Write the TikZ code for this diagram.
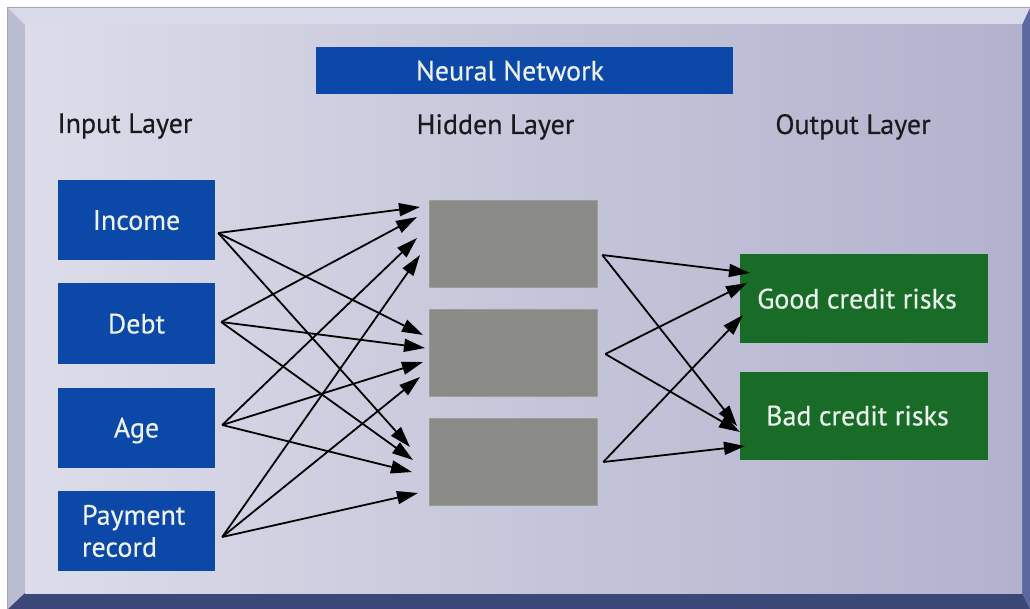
\documentclass[tikz,border=0pt]{standalone}
\usepackage{fontspec}
\setmainfont{PT Sans}[FakeBold=0.35]
\usetikzlibrary{arrows.meta}

\definecolor{nnblue}{RGB}{12,72,168}
\definecolor{nngreen}{RGB}{24,108,40}
\definecolor{nngrey}{RGB}{138,138,134}
\definecolor{faceL}{RGB}{220,220,234}
\definecolor{faceM}{RGB}{198,198,218}
\definecolor{faceR}{RGB}{178,178,206}
\definecolor{bevTop}{RGB}{216,217,233}
\definecolor{bevLeft}{RGB}{186,188,210}
\definecolor{bevBottom}{RGB}{58,71,119}
\definecolor{bevRight}{RGB}{92,104,160}
\definecolor{boxtext}{RGB}{236,242,236}
\definecolor{labeltext}{RGB}{26,26,30}

\tikzset{
  boxfont/.style={font=\fontsize{28}{32}\selectfont},
  inbox/.style={boxfont, fill=nnblue, text=boxtext, minimum width=157pt,
                minimum height=80pt, inner sep=0pt, text depth=0pt},
  hidbox/.style={fill=nngrey, draw=nngrey!85!white, line width=0.6pt,
                 minimum width=168pt, minimum height=87pt, inner sep=0pt},
  outbox/.style={boxfont, fill=nngreen, text=boxtext, minimum width=248pt,
                 minimum height=88pt, inner sep=0pt, text depth=0pt},
  layerlabel/.style={boxfont, text=labeltext, anchor=base, inner sep=0pt},
  link/.style={line width=1.8pt, black,
               -{Triangle[length=21pt,width=13pt]}},
}

\begin{document}
\begin{tikzpicture}[x=1pt,y=-1pt]
\useasboundingbox (0,0) rectangle (1030,609);
\fill[white] (0,0) rectangle (1030,609);

% bevelled frame
\fill[bevTop]    (8,8) -- (1030,8) -- (1022,25) -- (25,25) -- cycle;
\fill[bevLeft]   (8,8) -- (25,25) -- (25,593) -- (8,609) -- cycle;
\fill[bevRight]  (1030,8) -- (1030,609) -- (1022,593) -- (1022,25) -- cycle;
\fill[bevBottom] (8,609) -- (25,593) -- (1022,593) -- (1030,609) -- cycle;
\draw[gray!70, line width=1pt] (7.5,609) -- (7.5,7.5) -- (1030,7.5);

% face of the panel
\shade[left color=faceL, right color=faceR, middle color=faceM]
  (25,25) rectangle (1022,593);

% title
\node[boxfont, fill=nnblue, text=boxtext, minimum width=417pt,
      minimum height=47pt, inner sep=0pt, text depth=0pt]
  (title) at (524.5,70.5) {\hspace*{-29pt}Neural Network};

% layer headings
\node[layerlabel] (inlabel)  at (125,133)   {Input Layer};
\node[layerlabel] (hidlabel) at (495.5,134) {Hidden Layer};
\node[layerlabel] (outlabel) at (853,134)   {Output Layer};

% input layer
\node[inbox] (income) at (136.5,220)   {Income};
\node[inbox] (debt)   at (136.5,323.5) {Debt};
\node[inbox] (age)    at (136.5,427.5) {Age};
\node[inbox, text width=109pt, align=left, text depth=]
  (payment) at (136.5,531) {Payment\\record};

% hidden layer
\node[hidbox] (h1) at (513,243.5) {};
\node[hidbox] (h2) at (513,353)   {};
\node[hidbox] (h3) at (513,462)   {};

% output layer
\node[outbox] (good) at (864,298.5) {\hspace*{-14pt}Good credit risks};
\node[outbox] (bad)  at (864,415.5) {\hspace*{-13pt}Bad credit risks};

% where the links leave the input boxes
\coordinate (income-o)  at ([xshift=3pt,yshift=-13pt]income.east);
\coordinate (debt-o)    at ([xshift=6pt,yshift=1.5pt]debt.east);
\coordinate (age-o)     at ([xshift=7pt,yshift=2.5pt]age.east);
\coordinate (payment-o) at ([xshift=7pt,yshift=-6pt]payment.east);

% where the links end in front of the hidden boxes
\coordinate (h1-a) at (420,207);
\coordinate (h1-b) at (417,217);
\coordinate (h1-c) at (417,238);
\coordinate (h1-d) at (420,255);
\coordinate (h2-a) at (423,335);
\coordinate (h2-b) at (425,348);
\coordinate (h2-c) at (423,362);
\coordinate (h2-d) at (420,377);
\coordinate (h3-a) at (410,447);
\coordinate (h3-b) at (413,460);
\coordinate (h3-c) at (412,472);
\coordinate (h3-d) at (418,493);

% input -> hidden
\draw[link] (income-o)  -- (h1-a);
\draw[link] (income-o)  -- (h2-a);
\draw[link] (income-o)  -- (h3-a);
\draw[link] (debt-o)    -- (h1-b);
\draw[link] (debt-o)    -- (h2-b);
\draw[link] (debt-o)    -- (h3-b);
\draw[link] (age-o)     -- (h1-c);
\draw[link] (age-o)     -- (h2-c);
\draw[link] (age-o)     -- (h3-c);
\draw[link] (payment-o) -- (h1-d);
\draw[link] (payment-o) -- (h2-d);
\draw[link] (payment-o) -- (h3-d);

% where the links leave the hidden boxes
\coordinate (h1-o) at ([xshift=5pt,yshift=-11.5pt]h1.east);
\coordinate (h2-o) at ([xshift=8pt,yshift=-1pt]h2.east);
\coordinate (h3-o) at ([xshift=6pt,yshift=0pt]h3.east);

% where the links end at the output boxes
\coordinate (good-a) at (750,273);
\coordinate (good-b) at (747,283);
\coordinate (good-c) at (743,315);
\coordinate (bad-a)  at (737,426);
\coordinate (bad-b)  at (740,432);
\coordinate (bad-c)  at (745,446);

% hidden -> output
\draw[link] (h1-o) -- (good-a);
\draw[link] (h1-o) -- (bad-a);
\draw[link] (h2-o) -- (good-b);
\draw[link] (h2-o) -- (bad-b);
\draw[link] (h3-o) -- (good-c);
\draw[link] (h3-o) -- (bad-c);
\end{tikzpicture}
\end{document}
